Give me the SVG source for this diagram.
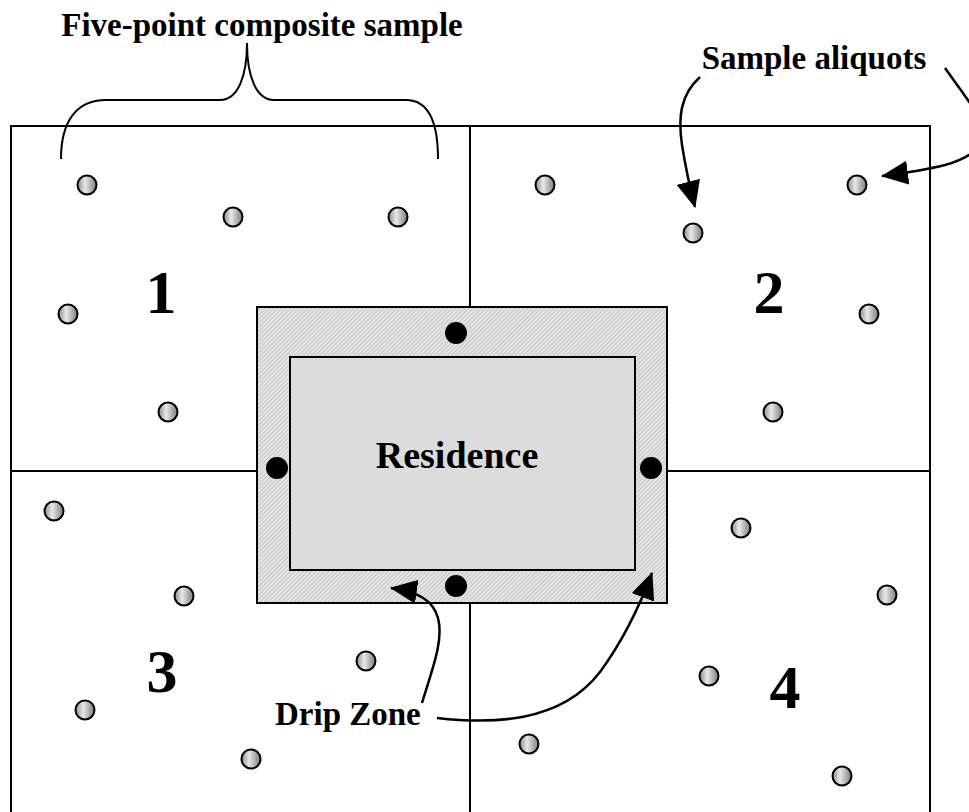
<svg xmlns="http://www.w3.org/2000/svg" width="969" height="812" viewBox="0 0 969 812">
<style>
.lbl{font-family:"Liberation Serif","Times New Roman",serif;font-weight:bold;fill:#000}
.ln{fill:none;stroke:#000;stroke-width:2}
.arr{fill:none;stroke:#000;stroke-width:2.5;marker-end:url(#ah)}
.pt{fill:url(#gr);stroke:#000;stroke-width:2}
.dot{fill:#000}
</style>
<defs>
<linearGradient id="gr" x1="0" y1="0" x2="1" y2="0">
<stop offset="0" stop-color="#8c8c8c"/>
<stop offset="0.4" stop-color="#e8e8e8"/>
<stop offset="0.6" stop-color="#c4c4c4"/>
<stop offset="1" stop-color="#7a7a7a"/>
</linearGradient>
<pattern id="hatch" width="3" height="3" patternUnits="userSpaceOnUse" patternTransform="rotate(45)">
<rect width="3" height="3" fill="#e4e4e4"/>
<line x1="0" y1="0" x2="0" y2="3" stroke="#a8a8a8" stroke-width="1"/>
</pattern>
<marker id="ah" markerUnits="userSpaceOnUse" markerWidth="28" markerHeight="24" refX="26" refY="12" orient="auto">
<path d="M0,0 L27,12 L0,24 z" fill="#000"/>
</marker>
</defs>
<g id="field">
<polyline class="ln" points="11,812 11,126 930,126 930,812"/>
<line class="ln" x1="470" y1="126" x2="470" y2="307"/>
<line class="ln" x1="470" y1="603" x2="470" y2="812"/>
<line class="ln" x1="11" y1="471" x2="257" y2="471"/>
<line class="ln" x1="667" y1="471" x2="930" y2="471"/>
</g>
<g id="drip-zone">
<rect x="257" y="307" width="410" height="296" fill="url(#hatch)" stroke="#000" stroke-width="2"/>
</g>
<g id="residence">
<rect x="290" y="357" width="345" height="213" fill="#dcdcdc" stroke="#000" stroke-width="2"/>
<text class="lbl" x="457" y="468" font-size="38" text-anchor="middle">Residence</text>
</g>
<g id="drip-samples">
<circle class="dot" cx="456" cy="333" r="11"/>
<circle class="dot" cx="277" cy="468" r="11"/>
<circle class="dot" cx="651" cy="468" r="11"/>
<circle class="dot" cx="456" cy="586" r="11"/>
</g>
<g id="q1">
<text class="lbl" x="161" y="313" font-size="62" text-anchor="middle">1</text>
<circle class="pt" cx="87" cy="185" r="9.5"/>
<circle class="pt" cx="233" cy="217" r="9.5"/>
<circle class="pt" cx="398" cy="217" r="9.5"/>
<circle class="pt" cx="68" cy="314" r="9.5"/>
<circle class="pt" cx="168" cy="412" r="9.5"/>
</g>
<g id="q2">
<text class="lbl" x="769" y="313" font-size="62" text-anchor="middle">2</text>
<circle class="pt" cx="545" cy="185" r="9.5"/>
<circle class="pt" cx="693" cy="233" r="9.5"/>
<circle class="pt" cx="857" cy="185" r="9.5"/>
<circle class="pt" cx="869" cy="314" r="9.5"/>
<circle class="pt" cx="773" cy="412" r="9.5"/>
</g>
<g id="q3">
<text class="lbl" x="162" y="692" font-size="62" text-anchor="middle">3</text>
<circle class="pt" cx="54" cy="511" r="9.5"/>
<circle class="pt" cx="184" cy="596" r="9.5"/>
<circle class="pt" cx="366" cy="661" r="9.5"/>
<circle class="pt" cx="85" cy="710" r="9.5"/>
<circle class="pt" cx="251" cy="759" r="9.5"/>
</g>
<g id="q4">
<text class="lbl" x="785" y="708" font-size="62" text-anchor="middle">4</text>
<circle class="pt" cx="741" cy="528" r="9.5"/>
<circle class="pt" cx="887" cy="595" r="9.5"/>
<circle class="pt" cx="709" cy="676" r="9.5"/>
<circle class="pt" cx="529" cy="744" r="9.5"/>
<circle class="pt" cx="842" cy="776" r="9.5"/>
</g>
<g id="labels">
<text class="lbl" x="262" y="36" font-size="33" text-anchor="middle">Five-point composite sample</text>
<text class="lbl" x="814" y="69" font-size="33" text-anchor="middle">Sample aliquots</text>
<text class="lbl" x="275" y="725" font-size="33">Drip Zone</text>
</g>
<g id="connectors">
<path class="ln" d="M61,159 C61,122 76,100 106,100 L220,100 C238,100 247,76 247,43 C247,76 256,100 274,100 L406,100 C428,100 438,122 438,159"/>
<path class="arr" d="M700,77 C680,95 678,118 682,145 C686,170 690,188 695,207"/>
<path class="arr" d="M945,68 C962,92 978,112 984,128 C988,145 970,158 945,165 C925,170 905,173 882,176"/>
<path class="arr" d="M422,703 C432,670 444,640 438,618 C433,600 418,592 391,588"/>
<path class="arr" d="M437,718 C490,724 560,724 600,672 C625,638 640,605 652,573"/>
</g>
</svg>
